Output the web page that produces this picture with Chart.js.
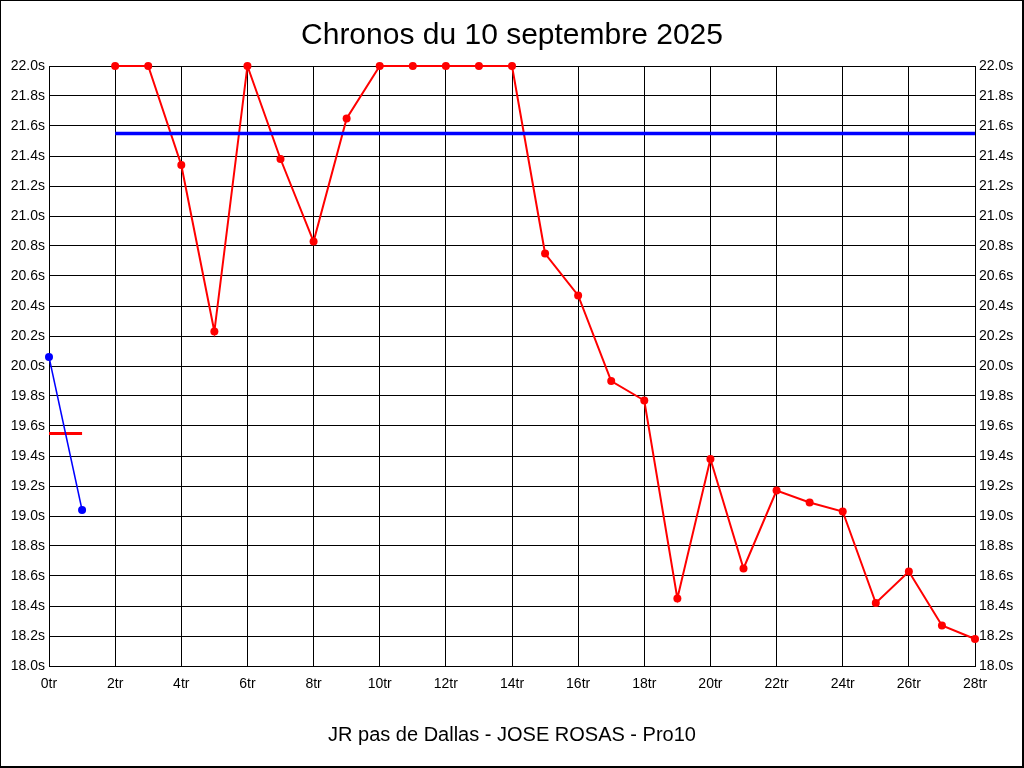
<!DOCTYPE html>
<html>
<head>
<meta charset="utf-8">
<script src="https://cdn.jsdelivr.net/npm/chart.js@4/dist/chart.umd.min.js"></script>
<style>
  html, body { margin: 0; padding: 0; background: #fff; }
  #wrap { width: 1024px; height: 768px; }
</style>
</head>
<body>
<div id="wrap"><canvas id="chrono" width="1024" height="768"></canvas></div>
<script>
// Lap numbers and times (seconds)
const blueLaps = [0, 1]
const blueTimes = [20.06, 19.04]
const blueAvg = 19.55

const redLaps = [2, 3, 4, 5, 6, 7, 8, 9, 10, 11, 12, 13, 14, 15, 16, 17, 18, 19, 20, 21, 22, 23, 24, 25, 26, 27, 28]
const redTimes = [22.0, 22.0, 21.34, 20.23, 22.0, 21.38, 20.83, 21.65, 22.0, 22.0, 22.0, 22.0, 22.0,
  20.75, 20.47, 19.90, 19.77, 18.45, 19.38, 18.65, 19.17, 19.09, 19.03, 18.42, 18.63, 18.27, 18.18]
const redAvg = 21.55

const title = 'Chronos du 10 septembre 2025'
const footer = 'JR pas de Dallas - JOSE ROSAS - Pro10'

const pts = (xs, ys) => xs.map((x, i) => ({ x, y: ys[i] }))
const FONT = 'Liberation Sans, Arial, sans-serif'

const frame = {
  id: 'frame',
  beforeDraw(chart) {
    const c = chart.ctx
    c.save()
    c.fillStyle = '#fff'
    c.fillRect(0, 0, chart.width, chart.height)
    c.strokeStyle = '#000'
    c.lineWidth = 2
    c.strokeRect(0, 0, chart.width - 1, chart.height - 1)
    c.restore()
  }
}

new Chart(document.getElementById('chrono'), {
  type: 'line',
  data: {
    datasets: [
      {
        data: pts(blueLaps, blueTimes),
        borderColor: '#0000ff', backgroundColor: '#0000ff',
        borderWidth: 1.5, pointRadius: 4, pointBorderWidth: 0, clip: 6
      },
      {
        data: pts([blueLaps[0], blueLaps[blueLaps.length - 1]], [blueAvg, blueAvg]),
        borderColor: '#ff0000', borderWidth: 3, pointRadius: 0
      },
      {
        data: pts([redLaps[0], redLaps[redLaps.length - 1]], [redAvg, redAvg]),
        borderColor: '#0000ff', borderWidth: 3.5, pointRadius: 0
      },
      {
        data: pts(redLaps, redTimes),
        borderColor: '#ff0000', backgroundColor: '#ff0000',
        borderWidth: 2, pointRadius: 4, pointBorderWidth: 0, clip: 6
      }
    ]
  },
  options: {
    responsive: false,
    animation: false,
    layout: { padding: 0 },
    plugins: {
      legend: { display: false },
      tooltip: { enabled: false },
      title: {
        display: true, text: title, color: '#000',
        font: { family: FONT, size: 30, weight: 'normal' },
        padding: { top: 18, bottom: 12 }
      }
    },
    scales: {
      x: {
        type: 'linear', min: 0, max: 28,
        afterFit(s) { s.height = 102 },
        grid: { color: '#000', lineWidth: 1, drawTicks: false },
        border: { color: '#000', width: 1 },
        ticks: {
          stepSize: 2, padding: 10, color: '#000', maxRotation: 0,
          font: { family: FONT, size: 14 },
          callback: v => v + 'tr'
        },
        title: {
          display: true, text: footer, color: '#000',
          font: { family: FONT, size: 20 },
          padding: { top: 0, bottom: 21 }
        }
      },
      y: {
        position: 'left', min: 18, max: 22,
        afterFit(s) { s.width = 49 },
        grid: { color: '#000', lineWidth: 1, drawTicks: false },
        border: { color: '#000', width: 1 },
        ticks: {
          stepSize: 0.2, padding: 4, color: '#000',
          font: { family: FONT, size: 14 },
          callback: v => v.toFixed(1) + 's'
        }
      },
      y2: {
        position: 'right', min: 18, max: 22,
        afterFit(s) { s.width = 49 },
        grid: { display: false, drawTicks: false },
        border: { color: '#000', width: 1 },
        ticks: {
          stepSize: 0.2, padding: 4, color: '#000',
          font: { family: FONT, size: 14 },
          callback: v => v.toFixed(1) + 's'
        }
      }
    }
  },
  plugins: [frame]
})
</script>
</body>
</html>
